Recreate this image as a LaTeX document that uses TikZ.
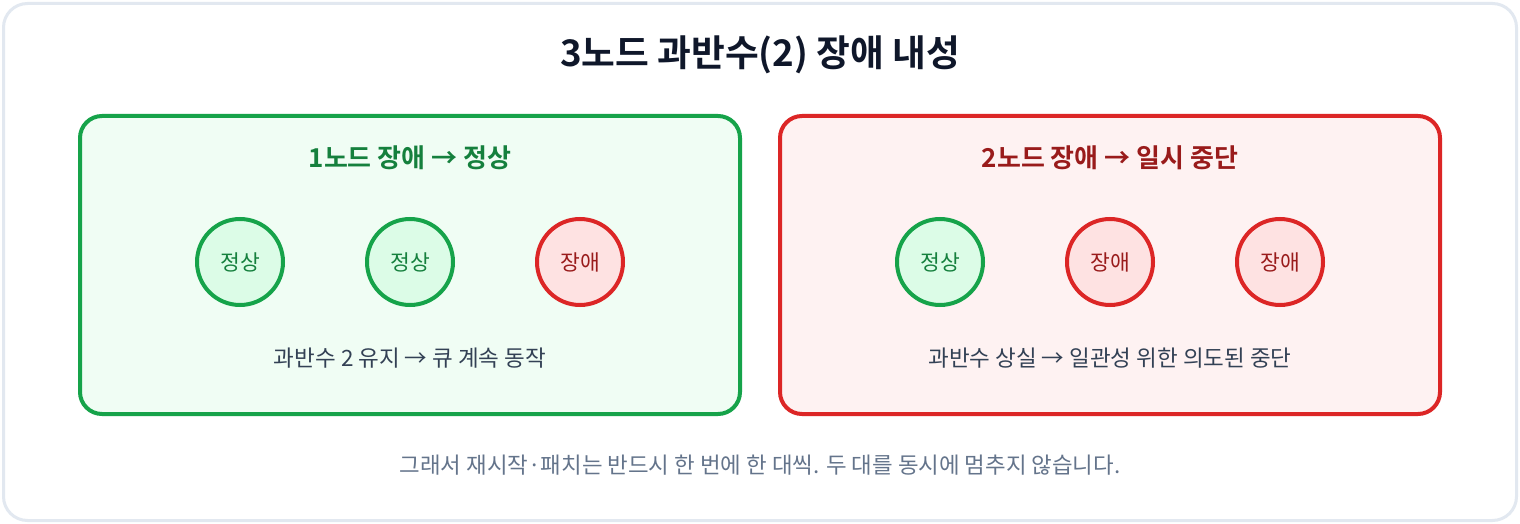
\documentclass[tikz,border=0pt]{standalone}
\usepackage{fontspec}
\setmainfont{Noto Sans CJK KR}
\newfontfamily\krbold{Noto Sans CJK KR Bold}
\definecolor{outerline}{HTML}{E2E8F0}
\definecolor{titlec}{HTML}{0F172A}
\definecolor{gline}{HTML}{16A34A}
\definecolor{gfill}{HTML}{F0FDF4}
\definecolor{gcirc}{HTML}{DCFCE7}
\definecolor{gtext}{HTML}{15803D}
\definecolor{rline}{HTML}{DC2626}
\definecolor{rfill}{HTML}{FEF2F2}
\definecolor{rcirc}{HTML}{FEE2E2}
\definecolor{rtext}{HTML}{991B1B}
\definecolor{bodyc}{HTML}{334155}
\definecolor{footc}{HTML}{64748B}
\begin{document}
\begin{tikzpicture}[x=1pt,y=-1pt,
  panel/.style={rounded corners=22pt, line width=4pt},
  okcirc/.style={circle, draw=gline, fill=gcirc, line width=4pt, minimum size=86pt, inner sep=0pt, text=gtext, font=\fontsize{21.5}{24}\selectfont},
  badcirc/.style={circle, draw=rline, fill=rcirc, line width=4pt, minimum size=86pt, inner sep=0pt, text=rtext, font=\fontsize{21.5}{24}\selectfont},
  ptitle/.style={font=\krbold\fontsize{26}{30}\selectfont},
  body/.style={text=bodyc, font=\fontsize{22.5}{26}\selectfont},
]
\useasboundingbox (0,0) rectangle (1520,524);
\fill[white] (0,0) rectangle (1520,524);
\draw[outerline, line width=3pt, rounded corners=24pt] (3.5,3.5) rectangle (1516.5,520.5);
\node[font=\krbold\fontsize{36.7}{42}\selectfont, text=titlec] (title) at (760,55) {3노드 과반수(2) 장애 내성};
% left panel
\draw[panel, draw=gline, fill=gfill] (80,116) rectangle (740,414);
\node[ptitle, text=gtext] (lt) at (410,158) {1노드 장애 → 정상};
\node[okcirc] (l1) at (240,262) {정상};
\node[okcirc] (l2) at (410,262) {정상};
\node[badcirc] (l3) at (580,262) {장애};
\node[body] (lb) at (410,358) {과반수 2 유지 → 큐 계속 동작};
% right panel
\draw[panel, draw=rline, fill=rfill] (780,116) rectangle (1440,414);
\node[ptitle, text=rtext] (rt) at (1110,158) {2노드 장애 → 일시 중단};
\node[okcirc] (r1) at (940,262) {정상};
\node[badcirc] (r2) at (1110,262) {장애};
\node[badcirc] (r3) at (1280,262) {장애};
\node[body] (rb) at (1110,358) {과반수 상실 → 일관성 위한 의도된 중단};
% footer
\node[text=footc, font=\fontsize{22.4}{26}\selectfont] (foot) at (760,465) {그래서 재시작·패치는 반드시 한 번에 한 대씩. 두 대를 동시에 멈추지 않습니다.};
\end{tikzpicture}
\end{document}
